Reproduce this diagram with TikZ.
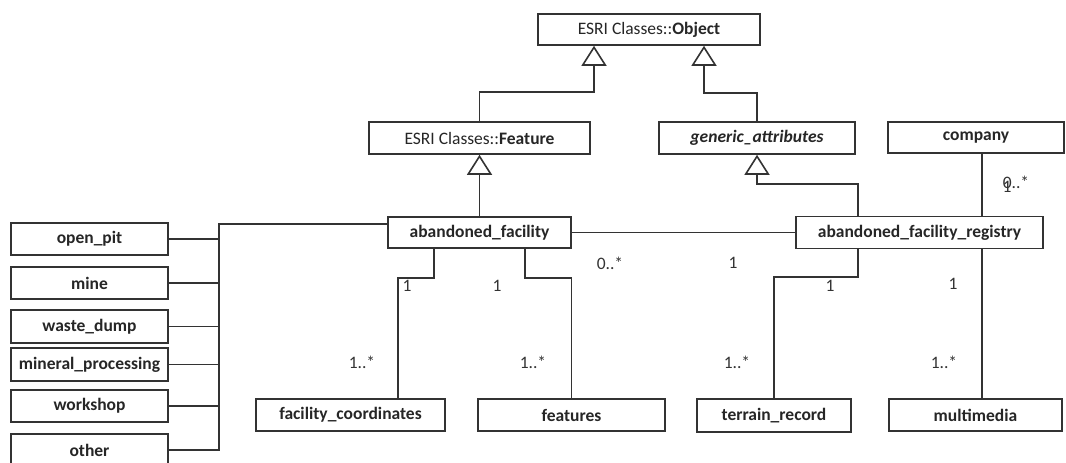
\documentclass[tikz,border=0pt]{standalone}
\usepackage{fontspec}
\setmainfont{Carlito}
\usetikzlibrary{arrows.meta}

\begin{document}
\begin{tikzpicture}[x=1pt, y=-1pt,
  cls/.style={draw=black!80, line width=1.6pt, fill=white, minimum height=32pt, inner sep=0pt,
    font=\fontsize{17.5}{20}\selectfont\bfseries, text=black!85},
  lnk/.style={draw=black!80, line width=1.6pt},
  gen/.style={lnk, -{Triangle[open, width=25pt, length=20pt]}},
  mult/.style={font=\fontsize{17.5}{20}\selectfont, text=black!80, inner sep=0pt}]
\useasboundingbox (0,0) rectangle (1066,463);

% classes
\node [cls, minimum width=222pt, minimum height=31pt] (object) at (649,29.5) {{\mdseries ESRI Classes::}Object};
\node [cls, minimum width=221pt] (feature) at (479.5,138) {{\mdseries ESRI Classes::}Feature};
\node [cls, minimum width=196pt] (generic) at (757,138) {\itshape generic\_attributes};
\node [cls, minimum width=176pt, minimum height=31pt] (company) at (976,137.5) {company};
\node [cls, minimum width=183pt, minimum height=31pt] (af) at (479.5,232.5) {abandoned\_facility};
\node [cls, minimum width=247pt] (registry) at (919.5,232.5) {abandoned\_facility\_registry};
\node [cls, minimum width=189pt] (coords) at (350.5,415) {facility\_coordinates};
\node [cls, minimum width=187pt] (features) at (571.5,415) {features};
\node [cls, minimum width=154pt, minimum height=33pt] (terrain) at (774,415.5) {terrain\_record};
\node [cls, minimum width=173pt] (media) at (975.5,415) {multimedia};

% facility types
\node [cls, minimum width=157pt] (openpit) at (89.5,239) {open\_pit};
\node [cls, minimum width=157pt] (mine) at (89.5,283) {mine};
\node [cls, minimum width=157pt, minimum height=33pt] (dump) at (89.5,326.5) {waste\_dump};
\node [cls, minimum width=157pt, minimum height=33pt] (mineral) at (89.5,364.5) {mineral\_processing};
\node [cls, minimum width=157pt] (workshop) at (89.5,406) {workshop};
\node [cls, minimum width=157pt] (other) at (89.5,450) {other};

% generalisation
\draw [gen] (feature.north) |- ([xshift=-55pt, yshift=-46pt]object.south) -- ([xshift=-55pt]object.south);
\draw [gen] (generic.north) |- ([xshift=55pt, yshift=-47pt]object.south) -- ([xshift=55pt]object.south);
\draw [gen] (af.north) -- (feature.south);
\draw [gen] ([xshift=-61.5pt]registry.north) |- ([yshift=-29pt]generic.south) -- (generic.south);

% associations
\coordinate (bus) at (219,224);
\coordinate (reg) at (982,233);
\draw [lnk] ([yshift=8.5pt]af.west) -- (bus) -- (bus |- other.east) -- (other.east);
\foreach \n in {openpit, mine, dump, mineral, workshop}
  \draw [lnk] (\n.east) -- (\n.east -| bus);
\draw [lnk] (af.east) -- (registry.west);
\draw [lnk] (company.south -| reg) -- (registry.north -| reg);
\draw [lnk] (registry.south -| reg) -- (media.north -| reg);
\draw [lnk] ([xshift=-45.5pt]af.south) |- ([xshift=47.5pt, yshift=120pt]coords.north) -- ([xshift=47.5pt]coords.north);
\draw [lnk] ([xshift=45.5pt]af.south) |- ([yshift=120pt]features.north) -- (features.north);
\draw [lnk] ([xshift=-61.5pt]registry.south) |- ([yshift=121pt]terrain.north) -- (terrain.north);

% multiplicities
\node [mult] (m1) at (610,263) {0..*};
\node [mult] (m2) at (733,263) {1};
\node [mult] (m3) at (407,286) {1};
\node [mult] (m4) at (497,286) {1};
\node [mult] (m5) at (362,362) {1..*};
\node [mult] (m6) at (533,362) {1..*};
\node [mult] (m7) at (830,286) {1};
\node [mult] (m8) at (737,362) {1..*};
\node [mult] (m9) at (953,284) {1};
\node [mult] (m10) at (944,362) {1..*};
\node [mult] (m11) at (1016,182) {0..*};
\node [mult] (m12) at (1007,187) {1};
\end{tikzpicture}
\end{document}
